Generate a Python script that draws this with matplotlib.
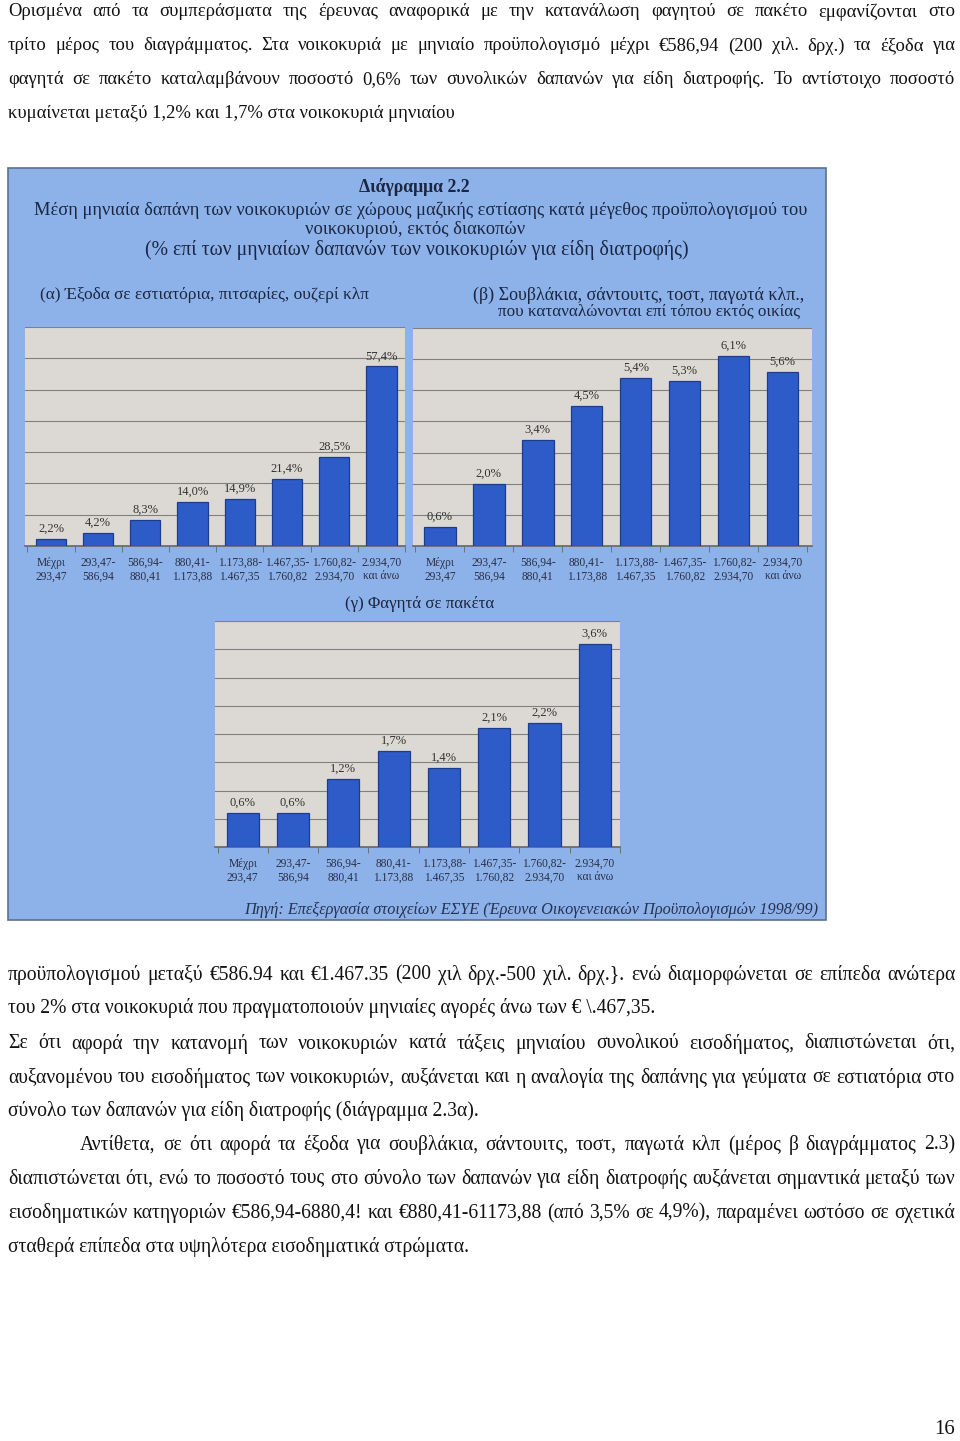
import numpy as np
import matplotlib.pyplot as plt
from matplotlib.patches import Rectangle

W, H = 960, 1441

# --- data -------------------------------------------------------------
groups = ['Μέχρι\n293,47', '293,47-\n586,94', '586,94-\n880,41', '880,41-\n1.173,88',
          '1.173,88-\n1.467,35', '1.467,35-\n1.760,82', '1.760,82-\n2.934,70', '2.934,70\nκαι άνω']
restaurants = [2.2, 4.2, 8.3, 14.0, 14.9, 21.4, 28.5, 57.4]
snacks = [0.6, 2.0, 3.4, 4.5, 5.4, 5.3, 6.1, 5.6]
takeaway = [0.6, 0.6, 1.2, 1.7, 1.4, 2.1, 2.2, 3.6]

top_lines = [
    "Ορισμένα από τα συμπεράσματα της έρευνας αναφορικά με την κατανάλωση φαγητού σε πακέτο εμφανίζονται στο",
    "τρίτο μέρος του διαγράμματος. Στα νοικοκυριά με μηνιαίο προϋπολογισμό μέχρι €586,94 (200 χιλ. δρχ.) τα έξοδα για",
    "φαγητά σε πακέτο καταλαμβάνουν ποσοστό 0,6% των συνολικών δαπανών για είδη διατροφής. Το αντίστοιχο ποσοστό",
    "κυμαίνεται μεταξύ 1,2% και 1,7% στα νοικοκυριά μηνιαίου",
]
bottom_lines = [
    "προϋπολογισμού μεταξύ €586.94 και €1.467.35 (200 χιλ δρχ.-500 χιλ. δρχ.}. ενώ διαμορφώνεται σε επίπεδα ανώτερα",
    "του 2% στα νοικοκυριά που πραγματοποιούν μηνιαίες αγορές άνω των € \\.467,35.",
    "Σε ότι αφορά την κατανομή των νοικοκυριών κατά τάξεις μηνιαίου συνολικού εισοδήματος, διαπιστώνεται ότι,",
    "αυξανομένου του εισοδήματος των νοικοκυριών, αυξάνεται και η αναλογία της δαπάνης για γεύματα σε εστιατόρια στο",
    "σύνολο των δαπανών για είδη διατροφής (διάγραμμα 2.3α).",
    "Αντίθετα, σε ότι αφορά τα έξοδα για σουβλάκια, σάντουιτς, τοστ, παγωτά κλπ (μέρος β διαγράμματος 2.3)",
    "διαπιστώνεται ότι, ενώ το ποσοστό τους στο σύνολο των δαπανών για είδη διατροφής αυξάνεται σημαντικά μεταξύ των",
    "εισοδηματικών κατηγοριών €586,94-6880,4! και €880,41-61173,88 (από 3,5% σε 4,9%), παραμένει ωστόσο σε σχετικά",
    "σταθερά επίπεδα στα υψηλότερα εισοδηματικά στρώματα.",
]

plt.rcParams['font.family'] = ['Liberation Serif', 'DejaVu Serif']

fig = plt.figure(figsize=(W / 100, H / 100), dpi=100)
fig.patch.set_facecolor('white')
renderer = fig.canvas.get_renderer()


def fx(x):
    return x / W


def fy(y):
    return 1 - y / H


def box(l, t, r, b):
    return [l / W, 1 - b / H, (r - l) / W, (b - t) / H]


def text_line(s, x0, x1, y, justify, size, color='#111111'):
    words = s.split(' ')
    if not justify or len(words) == 1:
        fig.text(fx(x0), fy(y), s, fontsize=size, color=color, va='center', ha='left')
        return
    arts = [fig.text(0, 0, w, fontsize=size, color=color, va='center', ha='left') for w in words]
    widths = [a.get_window_extent(renderer).width for a in arts]
    gap = (x1 - x0 - sum(widths)) / (len(words) - 1)
    x = x0
    for a, w in zip(arts, widths):
        a.set_position((fx(x), fy(y)))
        x += w + gap


# top paragraph
top_y = [12, 46, 80, 113]
for i, (s, y) in enumerate(zip(top_lines, top_y)):
    text_line(s, 8, 955, y, justify=i < 3, size=13.4)

# bottom paragraphs
bot_y = [975, 1008, 1044, 1078, 1111, 1145, 1179, 1213, 1247]
bot_x0 = [8, 8, 8, 8, 8, 80, 8, 8, 8]
bot_just = [True, False, True, True, False, True, True, True, False]
for s, y, x0, j in zip(bottom_lines, bot_y, bot_x0, bot_just):
    text_line(s, x0, 955, y, justify=j, size=14.1)

fig.text(fx(945), fy(1430), '16', fontsize=15, color='#111111', ha='center', va='center')

# --- blue chart panel ------------------------------------------------
panel = Rectangle((fx(8), fy(920)), (826 - 8) / W, (920 - 168) / H, transform=fig.transFigure,
                  facecolor='#8db2ea', edgecolor='#5c6f8f', linewidth=1.2, zorder=0)
fig.add_artist(panel)

ink = '#1b2640'
fig.text(fx(414), fy(187), 'Διάγραμμα 2.2', fontsize=12.8, fontweight='bold', color=ink, ha='center', va='center')
fig.text(fx(421), fy(210), 'Μέση μηνιαία δαπάνη των νοικοκυριών σε χώρους μαζικής εστίασης κατά μέγεθος '
         'προϋπολογισμού του', fontsize=13.2, color=ink, ha='center', va='center')
fig.text(fx(415), fy(229), 'νοικοκυριού, εκτός διακοπών', fontsize=13.4, color=ink, ha='center', va='center')
fig.text(fx(417), fy(250), '(% επί των μηνιαίων δαπανών των νοικοκυριών για είδη διατροφής)',
         fontsize=14.2, color=ink, ha='center', va='center')
fig.text(fx(40), fy(295), '(α) Έξοδα σε εστιατόρια, πιτσαρίες, ουζερί κλπ', fontsize=12.5, color=ink,
         ha='left', va='center')
fig.text(fx(473), fy(295), '(β) Σουβλάκια, σάντουιτς, τοστ, παγωτά κλπ.,', fontsize=13, color=ink,
         ha='left', va='center')
fig.text(fx(800), fy(312), 'που καταναλώνονται επί τόπου εκτός οικίας', fontsize=12.3, color=ink,
         ha='right', va='center')
fig.text(fx(420), fy(604), '(γ) Φαγητά σε πακέτα', fontsize=12.2, color=ink, ha='center', va='center')
fig.text(fx(818), fy(910), 'Πηγή: Επεξεργασία στοιχείων ΕΣΥΕ (Έρευνα Οικογενειακών Προϋπολογισμών 1998/99)',
         fontsize=11.7, style='italic', color='#26324f', ha='right', va='center')


def bar_panel(rect, values, ymax, step, xmax):
    ax = fig.add_axes(rect)
    ax.set_facecolor('#dcd9d4')
    x = np.arange(len(values))
    ax.bar(x, values, width=0.64, color='#2d5cc8', edgecolor='#1e3c8e', linewidth=0.9, zorder=3)
    for xi, v in zip(x, values):
        ax.annotate(f'{v:.1f}%'.replace('.', ','), (xi, v), xytext=(0, 3), textcoords='offset points',
                    ha='center', va='bottom', fontsize=9, color='#333333', zorder=4)
    ax.set_xlim(-0.55, xmax)
    ax.set_ylim(0, ymax)
    ax.set_yticks(np.arange(step, ymax + 1e-9, step))
    ax.yaxis.grid(True, color='#808080', linewidth=0.8, zorder=1)
    ax.tick_params(axis='y', length=0, labelleft=False)
    ax.set_xticks(x)
    ax.set_xticklabels(groups, fontsize=8.3, color='#2a2f45', linespacing=1.15)
    ax.tick_params(axis='x', length=0, pad=8)
    ax.set_xticks(np.arange(-0.5, len(values), 1), minor=True)
    ax.tick_params(axis='x', which='minor', length=4, color='#666666', direction='out')
    for side in ['top', 'right', 'left']:
        ax.spines[side].set_visible(False)
    ax.spines['bottom'].set_color('#666666')
    ax.spines['bottom'].set_linewidth(1.2)
    return ax


bar_panel(box(25, 327, 405, 546), restaurants, 70, 10, 7.5)
bar_panel(box(413, 328, 812, 546), snacks, 7, 1, 7.6)
bar_panel(box(215, 621, 620, 847), takeaway, 4, 0.5, 7.5)

fig.savefig('out.png', dpi=100)
